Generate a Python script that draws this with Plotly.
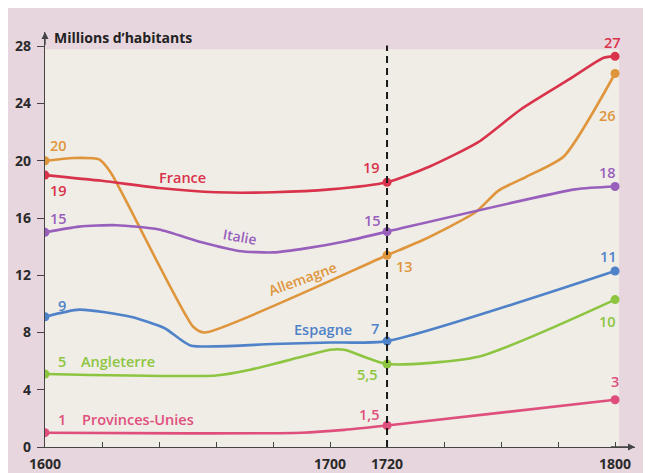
import plotly.graph_objects as go

# ---- data ----
france_years = [1600, 1620, 1640, 1660, 1680, 1700, 1720, 1735, 1752, 1767, 1784, 1796, 1800]
france_values = [19.0, 18.6, 18.1, 17.8, 17.8, 18.0, 18.5, 19.6, 21.3, 23.6, 25.7, 27.2, 27.3]

allemagne_years = [1600, 1610, 1619, 1623, 1652, 1656, 1720, 1733, 1751, 1759, 1769, 1782, 1800]
allemagne_values = [20.0, 20.2, 20.1, 19.2, 8.4, 8.0, 13.4, 14.5, 16.4, 17.9, 18.9, 20.3, 26.1]

italie_years = [1600, 1612, 1625, 1640, 1655, 1668, 1680, 1692, 1706, 1720, 1786, 1800]
italie_values = [15.0, 15.4, 15.5, 15.2, 14.3, 13.7, 13.6, 13.9, 14.4, 15.05, 18.0, 18.2]

espagne_years = [1600, 1612, 1630, 1642, 1651, 1680, 1700, 1720, 1800]
espagne_values = [9.1, 9.6, 9.1, 8.3, 7.1, 7.2, 7.3, 7.4, 12.3]

angleterre_years = [1600, 1660, 1672, 1690, 1700, 1705, 1720, 1752, 1800]
angleterre_values = [5.1, 5.0, 5.4, 6.3, 6.8, 6.8, 5.8, 6.3, 10.3]

provinces_years = [1600, 1650, 1690, 1705, 1720, 1800]
provinces_values = [1.0, 0.95, 1.0, 1.2, 1.5, 3.3]

y_ticks = [0, 4, 8, 12, 16, 20, 24, 28]
x_ticks = [1600, 1620, 1640, 1660, 1680, 1700, 1720, 1740, 1760, 1780, 1800]
x_labels = ["1600", "", "", "", "", "1700", "1720", "", "", "", "1800"]
marked_years = [1600, 1720, 1800]

# ---- colours ----
RED = "#d8334a"
ORANGE = "#df953c"
PURPLE = "#985fbd"
BLUE = "#4f82c8"
GREEN = "#8dc540"
PINK = "#df4f7e"
PINK_BG = "#e8d6de"
CREAM = "#efede6"
FONT = "Open Sans"

series = [
    (provinces_years, provinces_values, PINK),
    (angleterre_years, angleterre_values, GREEN),
    (espagne_years, espagne_values, BLUE),
    (allemagne_years, allemagne_values, ORANGE),
    (italie_years, italie_values, PURPLE),
    (france_years, france_values, RED),
]

fig = go.Figure()
for xs, ys, col in series:
    fig.add_trace(go.Scatter(x=xs, y=ys, mode="lines", line=dict(color=col, width=2.6, shape="spline", smoothing=0.6),
                             hoverinfo="skip", showlegend=False))
    mx = [x for x in xs if x in marked_years]
    my = [y for x, y in zip(xs, ys) if x in marked_years]
    fig.add_trace(go.Scatter(x=mx, y=my, mode="markers", marker=dict(color=col, size=9),
                             hoverinfo="skip", showlegend=False))

shapes = [
    # cream plot panel
    dict(type="rect", xref="x", yref="y", x0=1600, x1=1801.4, y0=0, y1=27.8,
         fillcolor=CREAM, line=dict(width=0), layer="below"),
    # dashed 1720 line
    dict(type="line", xref="x", yref="y", x0=1720, x1=1720, y0=0, y1=28.05,
         line=dict(color="#1a1a1a", width=2, dash="7px,5px"), layer="above"),
]

def lab(text, x, y, col, size=14.5, anchor="center", angle=0):
    return dict(text=text, x=x, y=y, xref="x", yref="y", showarrow=False, xanchor=anchor, yanchor="middle",
                textangle=angle, font=dict(family=FONT, size=size, color=col, weight=600))

annotations = [
    dict(text="Millions d’habitants", x=1602.3, y=28.65, xref="x", yref="y", showarrow=False,
         xanchor="left", yanchor="middle", font=dict(family=FONT, size=14, color="#222", weight="bold")),
    lab("20", 1601, 21.05, ORANGE, 14.5, "left"),
    lab("19", 1601, 17.9, RED, 14.5, "left"),
    lab("France", 1648.4, 18.8, RED),
    lab("15", 1601, 15.95, PURPLE, 14.5, "left"),
    lab("Italie", 1668.4, 14.7, PURPLE, 14, "center", 10),
    lab("Allemagne", 1690.5, 11.75, ORANGE, 14, "center", -20),
    lab("Espagne", 1697.5, 8.2, BLUE),
    lab("7", 1715.8, 8.3, BLUE),
    lab("13", 1726.3, 12.6, ORANGE),
    lab("5,5", 1713.3, 5.1, GREEN),
    lab("1,5", 1714, 2.24, PINK),
    lab("19", 1714.7, 19.5, RED),
    lab("15", 1715, 15.8, PURPLE),
    lab("27", 1799, 28.3, RED),
    lab("26", 1797.5, 23.2, ORANGE),
    lab("18", 1797.5, 19.2, PURPLE),
    lab("11", 1797.8, 13.3, BLUE),
    lab("10", 1797.5, 8.75, GREEN),
    lab("3", 1800, 4.55, PINK),
    lab("9", 1606, 9.86, BLUE),
    lab("5", 1606, 6.0, GREEN),
    lab("Angleterre", 1625.6, 6.0, GREEN),
    lab("1", 1606, 1.9, PINK),
    lab("Provinces-Unies", 1632.6, 1.9, PINK),
    # axis arrows
    dict(x=1807, y=0, ax=1798, ay=0, xref="x", yref="y", axref="x", ayref="y", text="", showarrow=True,
         arrowhead=2, arrowsize=1, arrowwidth=1.4, arrowcolor="#444"),
    dict(x=1600, y=29, ax=1600, ay=28, xref="x", yref="y", axref="x", ayref="y", text="", showarrow=True,
         arrowhead=2, arrowsize=1, arrowwidth=1.4, arrowcolor="#444"),
]

fig.update_layout(
    width=643, height=465,
    margin=dict(l=37, r=16, t=24, b=26, autoexpand=False),
    paper_bgcolor=PINK_BG, plot_bgcolor=PINK_BG,
    shapes=shapes, annotations=annotations,
    xaxis=dict(range=[1600, 1807], tickvals=x_ticks, ticktext=x_labels, ticks="inside", ticklen=5,
               tickwidth=1.3, tickcolor="#444", showline=True, linecolor="#444", linewidth=1.4,
               showgrid=False, zeroline=False, fixedrange=True, automargin=False, ticklabelstandoff=4,
               tickfont=dict(family=FONT, size=14, color="#2a2a2a", weight="bold")),
    yaxis=dict(range=[0, 29], tickvals=y_ticks, ticks="outside", ticklen=7, tickwidth=1.3, tickcolor="#444",
               showline=True, linecolor="#444", linewidth=1.4, showgrid=False, zeroline=False, fixedrange=True,
               automargin=False, ticklabelstandoff=3,
               tickfont=dict(family=FONT, size=14, color="#2a2a2a", weight="bold")),
)

fig.write_html("out.html")
